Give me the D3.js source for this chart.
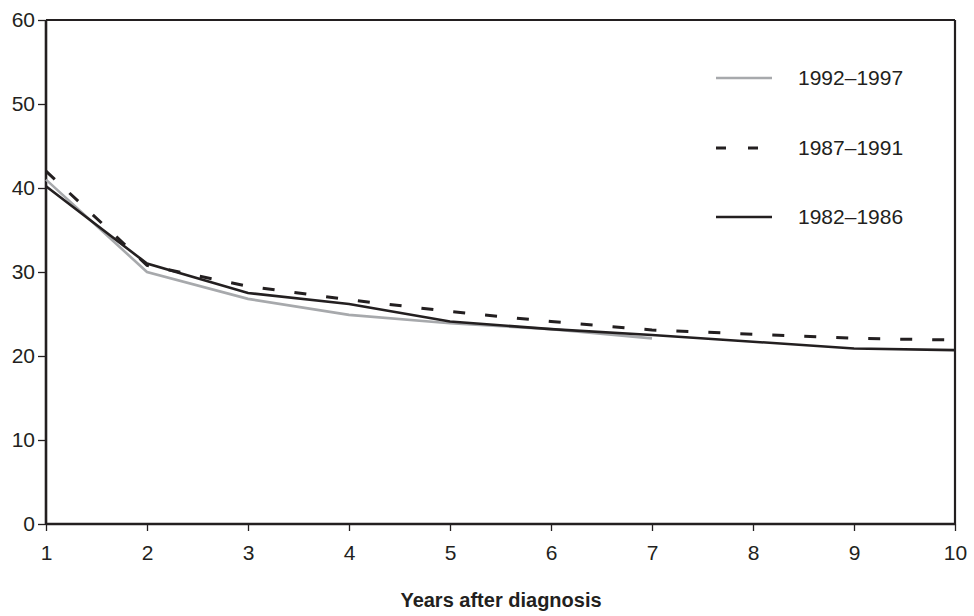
<!DOCTYPE html>
<html><head><meta charset="utf-8">
<script src="https://cdn.jsdelivr.net/npm/d3@7"></script>
<style>body{margin:0;background:#fff;} text{font-family:"Liberation Sans",Arial,sans-serif;fill:#231f20;}</style>
</head><body><svg id="c" width="974" height="616"></svg>
<script>
const years = [1,2,3,4,5,6,7,8,9,10];
const s1992 = [41.0, 30.0, 26.8, 24.9, 23.9, 23.2, 22.1];
const s1987 = [42.0, 30.8, 28.3, 26.7, 25.3, 24.1, 23.1, 22.6, 22.1, 21.9];
const s1982 = [40.2, 31.0, 27.5, 26.2, 24.1, 23.2, 22.5, 21.7, 20.9, 20.7];
const yTicks = [0,10,20,30,40,50,60];
const seriesNames = ["1992\u20131997","1987\u20131991","1982\u20131986"];

const svg = d3.select("#c");
const x = d3.scaleLinear().domain([1,10]).range([46,955]);
const y = d3.scaleLinear().domain([0,60]).range([524,20]);
const ink = "#231f20";

// frame top and right
svg.append("line").attr("x1",46).attr("x2",955).attr("y1",y(60)).attr("y2",y(60)).attr("stroke",ink).attr("stroke-width",2.2);
svg.append("line").attr("x1",955).attr("x2",955).attr("y1",y(60)).attr("y2",y(0)).attr("stroke",ink).attr("stroke-width",2.2);

const yAxis = svg.append("g").attr("transform","translate(46,0)")
  .call(d3.axisLeft(y).tickValues(yTicks).tickSize(8).tickPadding(3).tickFormat(d3.format("d")));
const xAxis = svg.append("g").attr("transform","translate(0,524)")
  .call(d3.axisBottom(x).tickValues(years).tickSize(7).tickPadding(14).tickFormat(d3.format("d")));
[yAxis,xAxis].forEach(a=>{
  a.select(".domain").attr("stroke",ink).attr("stroke-width",2.6);
  a.selectAll(".tick line").attr("stroke",ink).attr("stroke-width",1.3);
  a.selectAll(".tick text").attr("font-size",21).attr("fill",ink).style("font-family","'Liberation Sans',Arial,sans-serif");
});
yAxis.select(".domain").attr("d","M0,"+y(0)+"V"+y(60));
xAxis.select(".domain").attr("d","M46,0H955");

const line = d3.line().x((d,i)=>x(years[i])).y(d=>y(d));
const styles = [
  {data:s1992, stroke:"#a7a9ac", w:2.6, dash:null},
  {data:s1987, stroke:ink, w:3, dash:"12,20"},
  {data:s1982, stroke:ink, w:2.6, dash:null}
];
styles.forEach(s=>{
  svg.append("path").datum(s.data).attr("d",line).attr("fill","none")
    .attr("stroke",s.stroke).attr("stroke-width",s.w).attr("stroke-dasharray",s.dash);
});

// legend
const ly = [78,148,217];
styles.forEach((s,i)=>{
  svg.append("line").attr("x1",716).attr("x2",772).attr("y1",ly[i]).attr("y2",ly[i])
    .attr("stroke",s.stroke).attr("stroke-width",s.w).attr("stroke-dasharray",s.dash?"10,22":null);
  svg.append("text").attr("x",798).attr("y",ly[i]+7).attr("font-size",21).text(seriesNames[i]);
});

svg.append("text").attr("x",501).attr("y",607).attr("text-anchor","middle")
  .attr("font-size",20).attr("font-weight","bold").text("Years after diagnosis");
</script></body></html>
